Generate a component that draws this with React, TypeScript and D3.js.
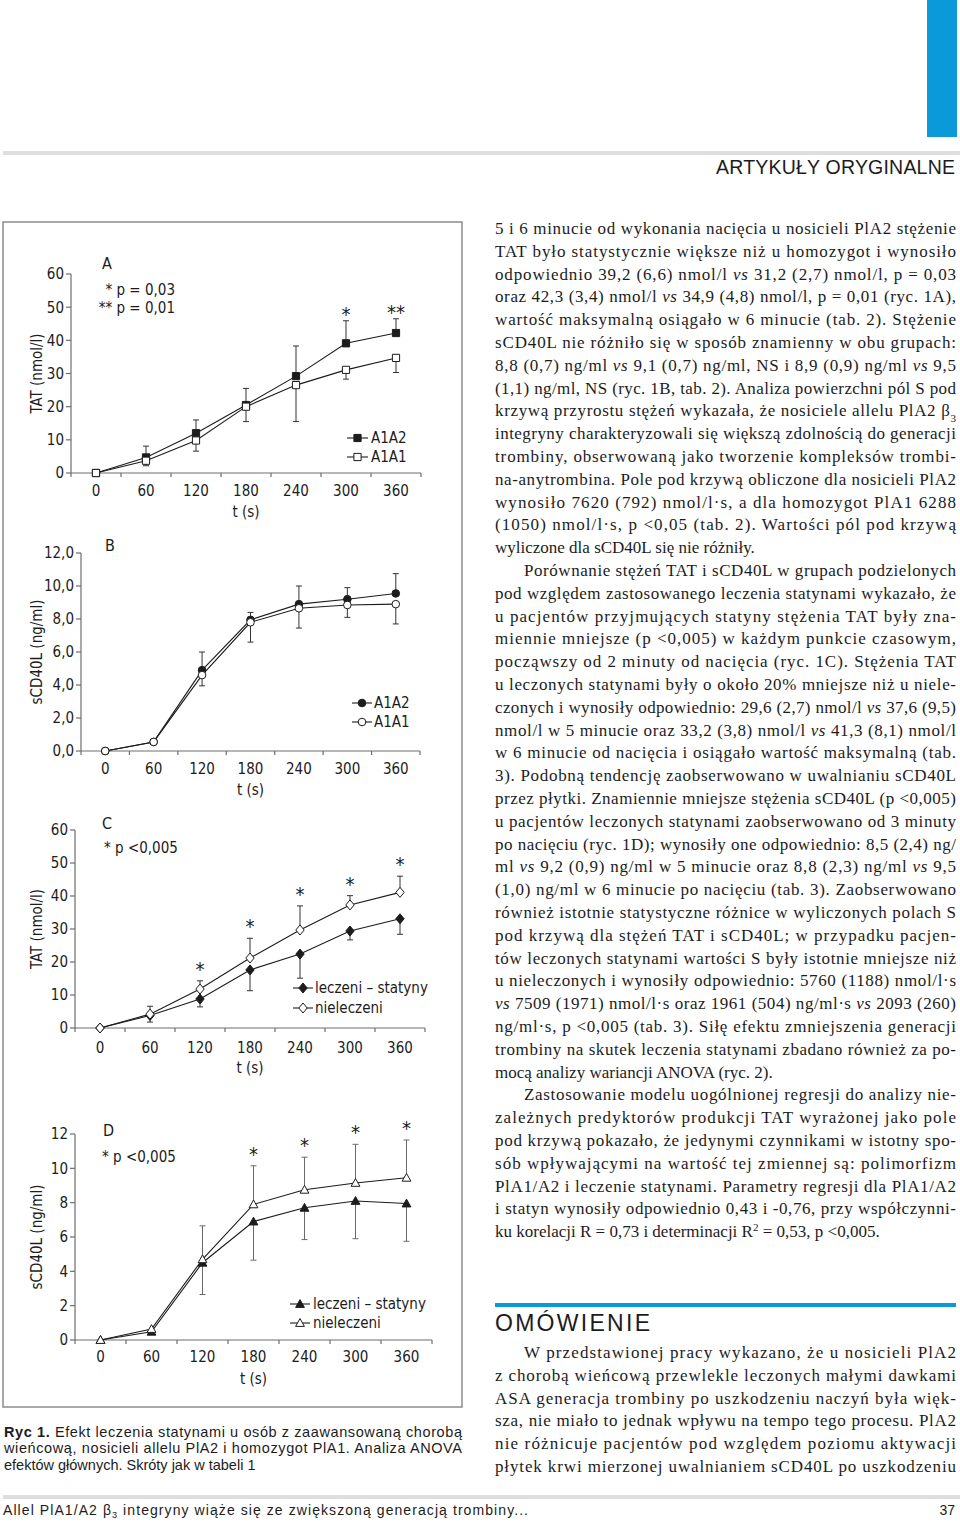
import React from "react"
import * as d3 from "d3"

// time points (s)
const times = [0, 60, 120, 180, 240, 300, 360]

// A: TAT, PlA1/A2 genotype
const tatA1A2 = [0, 4.7, 12.0, 20.5, 29.2, 39.1, 42.2]
const tatA1A2Sd = [0, 3.4, 4.0, 5.0, 9.1, 6.8, 4.3]
const tatA1A1 = [0, 3.7, 9.8, 20.0, 26.5, 31.1, 34.7]
const tatA1A1Sd = [0, 1.5, 3.2, 4.5, 11.0, 2.8, 4.4]
const sigA = ["", "", "", "", "", "*", "**"]

// B: sCD40L, genotype
const cdA1A2 = [0, 0.55, 4.9, 7.95, 8.9, 9.2, 9.55]
const cdA1A2Sd = [0, 0, 1.1, 0.45, 1.1, 0.7, 1.2]
const cdA1A1 = [0, 0.55, 4.6, 7.8, 8.65, 8.85, 8.9]
const cdA1A1Sd = [0, 0, 0.65, 1.2, 1.2, 0.75, 1.2]
const sigB = ["", "", "", "", "", "", ""]

// C: TAT, statin treatment
const tatStat = [0, 3.8, 8.8, 17.6, 22.4, 29.4, 33.1]
const tatStatSd = [0, 2.0, 2.4, 6.3, 7.3, 2.7, 4.7]
const tatNon = [0, 4.2, 11.8, 21.2, 29.7, 37.3, 41.1]
const tatNonSd = [0, 2.4, 2.5, 6.0, 7.3, 2.8, 4.9]
const sigC = ["", "", "*", "*", "*", "*", "*"]

// D: sCD40L, statin treatment
const cdStat = [0, 0.48, 4.5, 6.9, 7.7, 8.1, 7.95]
const cdStatSd = [0, 0, 1.85, 2.25, 1.85, 2.2, 2.2]
const cdNon = [0, 0.64, 4.7, 7.9, 8.75, 9.15, 9.45]
const cdNonSd = [0, 0, 1.95, 2.25, 1.9, 2.25, 2.2]
const sigD = ["", "", "", "*", "*", "*", "*"]

// page text
const bodyPara1 = [
  "5 i 6 minucie od wykonania nacięcia u nosicieli PlA2 stężenie",
  "TAT było statystycznie większe niż u homozygot i wynosiło",
  "odpowiednio 39,2 (6,6) nmol/l _vs_ 31,2 (2,7) nmol/l, p = 0,03",
  "oraz 42,3 (3,4) nmol/l _vs_ 34,9 (4,8) nmol/l, p = 0,01 (ryc. 1A),",
  "wartość maksymalną osiągało w 6 minucie (tab. 2). Stężenie",
  "sCD40L nie różniło się w sposób znamienny w obu grupach:",
  "8,8 (0,7) ng/ml _vs_ 9,1 (0,7) ng/ml, NS i 8,9 (0,9) ng/ml _vs_ 9,5",
  "(1,1) ng/ml, NS (ryc. 1B, tab. 2). Analiza powierzchni pól S pod",
  "krzywą przyrostu stężeń wykazała, że nosiciele allelu PlA2 β~3~",
  "integryny charakteryzowali się większą zdolnością do generacji",
  "trombiny, obserwowaną jako tworzenie kompleksów trombi-",
  "na-anytrombina. Pole pod krzywą obliczone dla nosicieli PlA2",
  "wynosiło 7620 (792) nmol/l·s, a dla homozygot PlA1 6288",
  "(1050) nmol/l·s, p <0,05 (tab. 2). Wartości pól pod krzywą",
  "wyliczone dla sCD40L się nie różniły.",
]
const bodyPara2 = [
  "Porównanie stężeń TAT i sCD40L w grupach podzielonych",
  "pod względem zastosowanego leczenia statynami wykazało, że",
  "u pacjentów przyjmujących statyny stężenia TAT były zna-",
  "miennie mniejsze (p <0,005) w każdym punkcie czasowym,",
  "począwszy od 2 minuty od nacięcia (ryc. 1C). Stężenia TAT",
  "u leczonych statynami były o około 20% mniejsze niż u niele-",
  "czonych i wynosiły odpowiednio: 29,6 (2,7) nmol/l _vs_ 37,6 (9,5)",
  "nmol/l w 5 minucie oraz 33,2 (3,8) nmol/l _vs_ 41,3 (8,1) nmol/l",
  "w 6 minucie od nacięcia i osiągało wartość maksymalną (tab.",
  "3). Podobną tendencję zaobserwowano w uwalnianiu sCD40L",
  "przez płytki. Znamiennie mniejsze stężenia sCD40L (p <0,005)",
  "u pacjentów leczonych statynami zaobserwowano od 3 minuty",
  "po nacięciu (ryc. 1D); wynosiły one odpowiednio: 8,5 (2,4) ng/",
  "ml _vs_ 9,2 (0,9) ng/ml w 5 minucie oraz 8,8 (2,3) ng/ml _vs_ 9,5",
  "(1,0) ng/ml w 6 minucie po nacięciu (tab. 3). Zaobserwowano",
  "również istotnie statystyczne różnice w wyliczonych polach S",
  "pod krzywą dla stężeń TAT i sCD40L; w przypadku pacjen-",
  "tów leczonych statynami wartości S były istotnie mniejsze niż",
  "u nieleczonych i wynosiły odpowiednio: 5760 (1188) nmol/l·s",
  "_vs_ 7509 (1971) nmol/l·s oraz 1961 (504) ng/ml·s _vs_ 2093 (260)",
  "ng/ml·s, p <0,005 (tab. 3). Siłę efektu zmniejszenia generacji",
  "trombiny na skutek leczenia statynami zbadano również za po-",
  "mocą analizy wariancji ANOVA (ryc. 2).",
]
const bodyPara3 = [
  "Zastosowanie modelu uogólnionej regresji do analizy nie-",
  "zależnych predyktorów produkcji TAT wyrażonej jako pole",
  "pod krzywą pokazało, że jedynymi czynnikami w istotny spo-",
  "sób wpływającymi na wartość tej zmiennej są: polimorfizm",
  "PlA1/A2 i leczenie statynami. Parametry regresji dla PlA1/A2",
  "i statyn wynosiły odpowiednio 0,43 i -0,76, przy współczynni-",
  "ku korelacji R = 0,73 i determinacji R^2^ = 0,53, p <0,005.",
]
const bodyPara4 = [
  "W przedstawionej pracy wykazano, że u nosicieli PlA2",
  "z chorobą wieńcową przewlekle leczonych małymi dawkami",
  "ASA generacja trombiny po uszkodzeniu naczyń była więk-",
  "sza, nie miało to jednak wpływu na tempo tego procesu. PlA2",
  "nie różnicuje pacjentów pod względem poziomu aktywacji",
  "płytek krwi mierzonej uwalnianiem sCD40L po uszkodzeniu",
]
const captionLines = [
  "#Ryc 1.# Efekt leczenia statynami u osób z zaawansowaną chorobą",
  "wieńcową, nosicieli allelu PlA2 i homozygot PlA1. Analiza ANOVA",
  "efektów głównych. Skróty jak w tabeli 1",
]
const footerText = "Allel PlA1/A2 β~3~ integryny wiąże się ze zwiększoną generacją trombiny..."

const chartFont = "'Liberation Sans Narrow', 'DejaVu Sans Condensed', 'Liberation Sans', sans-serif"
const serifFont = "'Liberation Serif', 'DejaVu Serif', serif"
const sansFont = "'Liberation Sans', Arial, sans-serif"
const ink = "#1c1c1c"
const axisColor = "#6e6e6e"
const blue = "#0a9ad9"
const fs = 15

const markerPaths: Record<string, string> = {
  square: "M-3.6,-3.6h7.2v7.2h-7.2Z",
  diamond: "M0,-5L4.2,0L0,5L-4.2,0Z",
  triangle: "M0,-4.4L4.4,3.4L-4.4,3.4Z",
}

function Marker({ kind, filled, x, y }: any) {
  const fill = filled ? ink : "#fff"
  if (kind === "circle") return <circle cx={x} cy={y} r={3.8} fill={fill} stroke={ink} strokeWidth={1} />
  return <path d={markerPaths[kind]} transform={`translate(${x},${y})`} fill={fill} stroke={ink} strokeWidth={1} />
}

// inline markup: _italic_, ~sub~, ^sup^, #bold#
function Rich({ text, x, y, size, family, length, anchor, color = ink, sub = 0.3 }: any) {
  const parts = text.split(/(_[^_]+_|~[^~]+~|\^[^^]+\^|#[^#]+#)/).filter(Boolean)
  let shift = 0
  const nodes = parts.map((p: string, i: number) => {
    let target = 0
    let content = p
    const props: any = {}
    if (p[0] === "_") { content = p.slice(1, -1); props.fontStyle = "italic" }
    else if (p[0] === "#") { content = p.slice(1, -1); props.fontWeight = "bold" }
    else if (p[0] === "~") { content = p.slice(1, -1); target = size * sub; props.fontSize = size * 0.65 }
    else if (p[0] === "^") { content = p.slice(1, -1); target = -size * 0.38; props.fontSize = size * 0.65 }
    const dy = target - shift
    shift = target
    return <tspan key={i} dy={dy || undefined} {...props}>{content}</tspan>
  })
  return (
    <text x={x} y={y} fontSize={size} fontFamily={family} fill={color} textAnchor={anchor}
      textLength={length} lengthAdjust={length ? "spacing" : undefined}>
      {nodes}
    </text>
  )
}

const panels = [
  {
    id: "A", yTitle: "TAT (nmol/l)", yMax: 60, yStep: 10, yFmt: (d: number) => String(d),
    xRange: [71, 421], yRange: [473, 274], tickY: 496, titleY: 517,
    series: [
      { name: "A1A2", values: tatA1A2, sd: tatA1A2Sd, dir: 1, kind: "square", filled: true },
      { name: "A1A1", values: tatA1A1, sd: tatA1A1Sd, dir: -1, kind: "square", filled: false },
    ],
    sig: sigA, sigGap: 0,
    label: { x: 102, y: 269 },
    notes: [
      { text: "* p = 0,03", x: 175, y: 295, anchor: "end" },
      { text: "** p = 0,01", x: 175, y: 313, anchor: "end" },
    ],
    legend: { x1: 347, x2: 368, tx: 371, ys: [438, 457] },
  },
  {
    id: "B", yTitle: "sCD40L (ng/ml)", yMax: 12, yStep: 2, yFmt: (d: number) => d3.format(".1f")(d).replace(".", ","),
    xRange: [81, 420], yRange: [751, 553], tickY: 774, titleY: 795,
    series: [
      { name: "A1A2", values: cdA1A2, sd: cdA1A2Sd, dir: 1, kind: "circle", filled: true },
      { name: "A1A1", values: cdA1A1, sd: cdA1A1Sd, dir: -1, kind: "circle", filled: false },
    ],
    sig: sigB, sigGap: 0,
    label: { x: 105, y: 551 },
    notes: [],
    legend: { x1: 352, x2: 372, tx: 374, ys: [703, 722] },
  },
  {
    id: "C", yTitle: "TAT (nmol/l)", yMax: 60, yStep: 10, yFmt: (d: number) => String(d),
    xRange: [75, 425], yRange: [1028, 830], tickY: 1053, titleY: 1073,
    series: [
      { name: "leczeni – statyny", values: tatStat, sd: tatStatSd, dir: -1, kind: "diamond", filled: true },
      { name: "nieleczeni", values: tatNon, sd: tatNonSd, dir: 1, kind: "diamond", filled: false },
    ],
    sig: sigC, sigGap: 5,
    label: { x: 102, y: 829 },
    notes: [{ text: "* p <0,005", x: 104, y: 853, anchor: "start" }],
    legend: { x1: 293, x2: 313, tx: 315, ys: [988, 1008] },
  },
  {
    id: "D", yTitle: "sCD40L (ng/ml)", yMax: 12, yStep: 2, yFmt: (d: number) => String(d),
    xRange: [75, 432], yRange: [1340, 1134], tickY: 1362, titleY: 1384,
    series: [
      { name: "leczeni – statyny", values: cdStat, sd: cdStatSd, dir: -1, kind: "triangle", filled: true },
      { name: "nieleczeni", values: cdNon, sd: cdNonSd, dir: 1, kind: "triangle", filled: false },
    ],
    sig: sigD, sigGap: 5,
    label: { x: 103, y: 1136 },
    notes: [{ text: "* p <0,005", x: 102, y: 1162, anchor: "start" }],
    legend: { x1: 290, x2: 310, tx: 313, ys: [1304, 1323] },
  },
]

function Panel({ cfg }: any) {
  const x = d3.scaleLinear().domain([-30, 390]).range(cfg.xRange)
  const y = d3.scaleLinear().domain([0, cfg.yMax]).range(cfg.yRange)
  const yTicks = d3.range(0, cfg.yMax + cfg.yStep / 2, cfg.yStep)
  const xTicks = d3.range(-30, 391, 60)
  const ax = cfg.xRange[0]
  const line = d3.line<number>().x((_, i) => x(times[i])).y((d) => y(d))
  const errColor = cfg.id === "D" ? "#6a6a6a" : "#333"

  return (
    <g fontFamily={chartFont} fill={ink}>
      {/* axes */}
      <line x1={ax} x2={cfg.xRange[1]} y1={y(0)} y2={y(0)} stroke={axisColor} strokeWidth={1.2} />
      <line x1={ax} x2={ax} y1={y(0)} y2={y(cfg.yMax)} stroke={axisColor} strokeWidth={1.2} />
      {yTicks.map((t: number) => (
        <g key={t}>
          <line x1={ax - 5} x2={ax} y1={y(t)} y2={y(t)} stroke={axisColor} strokeWidth={1.2} />
          <text x={ax - 7} y={y(t)} dy="0.36em" textAnchor="end" fontSize={fs}>{cfg.yFmt(t)}</text>
        </g>
      ))}
      {xTicks.map((t: number) => (
        <line key={t} x1={x(t)} x2={x(t)} y1={y(0)} y2={y(0) + 4} stroke={axisColor} strokeWidth={1.2} />
      ))}
      {times.map((t) => (
        <text key={t} x={x(t)} y={cfg.tickY} textAnchor="middle" fontSize={fs}>{t}</text>
      ))}
      <text x={x(180)} y={cfg.titleY} textAnchor="middle" fontSize={fs}>t (s)</text>
      <text transform={`translate(37,${(cfg.yRange[0] + cfg.yRange[1]) / 2}) rotate(-90)`} dy="0.36em"
        textAnchor="middle" fontSize={fs}>{cfg.yTitle}</text>

      {/* error bars */}
      {cfg.series.map((s: any) =>
        s.values.map((v: number, i: number) => {
          if (!s.sd[i]) return null
          const yEnd = y(v + s.dir * s.sd[i])
          return (
            <g key={s.name + i} stroke={errColor} strokeWidth={1}>
              <line x1={x(times[i])} x2={x(times[i])} y1={y(v)} y2={yEnd} />
              <line x1={x(times[i]) - 3} x2={x(times[i]) + 3} y1={yEnd} y2={yEnd} />
            </g>
          )
        })
      )}
      {/* lines */}
      {cfg.series.map((s: any) => (
        <path key={s.name} d={line(s.values) || ""} fill="none" stroke={ink} strokeWidth={1.1} />
      ))}
      {/* markers */}
      {cfg.series.map((s: any) =>
        s.values.map((v: number, i: number) => (
          <Marker key={s.name + "m" + i} kind={s.kind} filled={s.filled} x={x(times[i])} y={y(v)} />
        ))
      )}
      {/* significance */}
      {cfg.sig.map((m: string, i: number) => {
        if (!m) return null
        const top = d3.min(cfg.series, (s: any) => y(s.values[i] + Math.max(0, s.dir) * s.sd[i])) as number
        return (
          <text key={"s" + i} x={x(times[i])} y={top - cfg.sigGap} textAnchor="middle" fontSize={20}>{m}</text>
        )
      })}
      {/* legend */}
      {cfg.series.map((s: any, k: number) => (
        <g key={"l" + k}>
          <line x1={cfg.legend.x1} x2={cfg.legend.x2} y1={cfg.legend.ys[k]} y2={cfg.legend.ys[k]} stroke={ink} strokeWidth={1.1} />
          <Marker kind={s.kind} filled={s.filled} x={(cfg.legend.x1 + cfg.legend.x2) / 2} y={cfg.legend.ys[k]} />
          <text x={cfg.legend.tx} y={cfg.legend.ys[k]} dy="0.36em" fontSize={fs}>{s.name}</text>
        </g>
      ))}
      {/* panel letter and notes */}
      <text x={cfg.label.x} y={cfg.label.y} fontSize={16}>{cfg.id}</text>
      {cfg.notes.map((n: any, i: number) => (
        <text key={"n" + i} x={n.x} y={n.y} textAnchor={n.anchor} fontSize={fs}>{n.text}</text>
      ))}
    </g>
  )
}

export default function App() {
  const colLeft = 495
  const colRight = 956
  const indent = 29
  const lh = 22.8

  const bodyRows: any[] = []
  let row = 0
  ;[bodyPara1, bodyPara2, bodyPara3].forEach((para, p) => {
    para.forEach((ln, i) => {
      const x = colLeft + (p > 0 && i === 0 ? indent : 0)
      const last = i === para.length - 1
      bodyRows.push({ text: ln, x, y: 234 + row * lh, length: last ? undefined : colRight - x })
      row++
    })
  })
  bodyPara4.forEach((ln, i) => {
    const x = colLeft + (i === 0 ? indent : 0)
    bodyRows.push({ text: ln, x, y: 1358 + i * lh, length: colRight - x })
  })

  return (
    <svg width={960} height={1522} viewBox="0 0 960 1522"
      style={{ position: "absolute", left: 0, top: 0, background: "#fff" }}>
      <rect width={960} height={1522} fill="#fff" />
      {/* header */}
      <rect x={927} y={0} width={30} height={137} fill={blue} />
      <rect x={3} y={151} width={957} height={4} fill="#dedede" />
      <text x={716} y={174} fontSize={19.5} fontFamily={sansFont} fill={ink} textLength={239} lengthAdjust="spacing">
        ARTYKUŁY ORYGINALNE
      </text>

      {/* figure */}
      <rect x={3} y={222} width={459} height={1185} fill="none" stroke="#8c8c8c" strokeWidth={1.5} />
      {panels.map((cfg) => <Panel key={cfg.id} cfg={cfg} />)}

      {captionLines.map((ln, i) => (
        <Rich key={i} text={ln} x={4} y={1437 + i * 16.4} size={14.5} family={sansFont}
          length={i < 2 ? 458 : undefined} />
      ))}

      {/* body text */}
      {bodyRows.map((r, i) => (
        <Rich key={i} text={r.text} x={r.x} y={r.y} size={17} family={serifFont} length={r.length} />
      ))}

      <rect x={495} y={1303} width={461} height={4} fill={blue} />
      <text x={495} y={1331} fontSize={23} fontFamily={sansFont} fill={ink} textLength={155} lengthAdjust="spacing">
        OMÓWIENIE
      </text>

      {/* footer */}
      <rect x={3} y={1495} width={957} height={4} fill="#dedede" />
      <Rich text={footerText} x={3} y={1515} size={14} family={sansFont} length={525} sub={0.2} />
      <text x={955} y={1515} fontSize={14} fontFamily={sansFont} fill={ink} textAnchor="end">37</text>
    </svg>
  )
}
